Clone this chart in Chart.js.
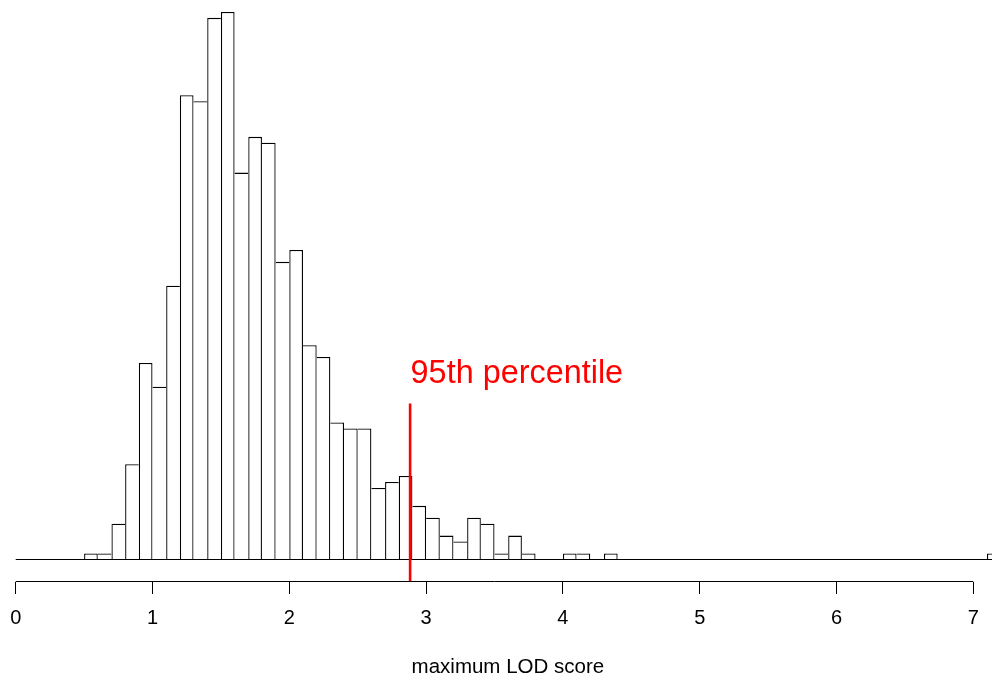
<!DOCTYPE html>
<html>
<head>
<meta charset="utf-8">
<script src="https://cdn.jsdelivr.net/npm/chart.js@4/dist/chart.umd.min.js"></script>
<style>
html, body { margin: 0; padding: 0; overflow: hidden; background: #ffffff; width: 992px; height: 677px; }
#c { display: block; }
</style>
</head>
<body>
<canvas id="c" width="1000" height="677"></canvas>
<script>
// ---- data (bins of width 0.1) ----
const binLower = [
  0.0, 0.1, 0.2, 0.3, 0.4, 0.5, 0.6, 0.7, 0.8, 0.9,
  1.0, 1.1, 1.2, 1.3, 1.4, 1.5, 1.6, 1.7, 1.8, 1.9,
  2.0, 2.1, 2.2, 2.3, 2.4, 2.5, 2.6, 2.7, 2.8, 2.9,
  3.0, 3.1, 3.2, 3.3, 3.4, 3.5, 3.6, 3.7, 3.8, 3.9,
  4.0, 4.1, 4.2, 4.3, 4.4, 4.5, 4.6, 4.7, 4.8, 4.9,
  5.0, 5.1, 5.2, 5.3, 5.4, 5.5, 5.6, 5.7, 5.8, 5.9,
  6.0, 6.1, 6.2, 6.3, 6.4, 6.5, 6.6, 6.7, 6.8, 6.9,
  7.0, 7.1
];
const counts = [
  0, 0, 0, 0, 0, 1, 1, 6, 16, 33,
  29, 46, 78, 77, 91, 92, 65, 71, 70, 50,
  52, 36, 34, 23, 22, 22, 12, 13, 14, 9,
  7, 4, 3, 7, 6, 1, 4, 1, 0, 0,
  1, 1, 0, 1, 0, 0, 0, 0, 0, 0,
  0, 0, 0, 0, 0, 0, 0, 0, 0, 0,
  0, 0, 0, 0, 0, 0, 0, 0, 0, 0,
  0, 1
];
const binWidth = 0.1;
const xTickValues = [0, 1, 2, 3, 4, 5, 6, 7];
const percentile95 = [2.883];
const percentileLineTop = 26.2;
const percentileLabel = "95th percentile";
const xAxisTitle = "maximum LOD score";

const FONT = "'Liberation Sans', Arial, Helvetica, sans-serif";
const EDGE = 1.3;

const histData = binLower.map((b, i) => ({ x: b + binWidth / 2, y: counts[i] }));

function barBorder(ctx) {
  const i = ctx.dataIndex;
  if (i === undefined) return EDGE;
  const c = counts[i];
  if (!c) return 0;
  const prev = i > 0 ? counts[i - 1] : 0;
  const next = i < counts.length - 1 ? counts[i + 1] : 0;
  return { top: EDGE, bottom: 0, left: c > prev ? EDGE : 0, right: c >= next ? EDGE : 0 };
}

const axesPlugin = {
  id: 'rAxes',
  afterDatasetDraw(chart, args) {
    if (args.meta.type !== 'bar') return;
    const ctx = chart.ctx, xs = chart.scales.x, ys = chart.scales.y;
    const y0 = Math.floor(ys.getPixelForValue(0)) + 0.5;
    ctx.save();
    ctx.strokeStyle = '#000000';
    ctx.lineWidth = 1;
    ctx.beginPath();
    ctx.moveTo(xs.getPixelForValue(binLower[0]), y0);
    ctx.lineTo(xs.getPixelForValue(binLower[binLower.length - 1] + binWidth), y0);
    ctx.stroke();
    ctx.restore();
  },
  afterDraw(chart) {
    const ctx = chart.ctx, xs = chart.scales.x, ys = chart.scales.y;
    const ya = Math.round(chart.chartArea.bottom) - 0.5;
    ctx.save();
    ctx.strokeStyle = '#000000';
    ctx.lineWidth = 1;
    ctx.beginPath();
    ctx.moveTo(xs.getPixelForValue(xTickValues[0]), ya);
    ctx.lineTo(xs.getPixelForValue(xTickValues[xTickValues.length - 1]), ya);
    ctx.stroke();
    // percentile label
    const px = xs.getPixelForValue(percentile95[0]);
    const py = ys.getPixelForValue(percentileLineTop);
    ctx.fillStyle = '#ff0000';
    ctx.font = "32.4px " + FONT;
    ctx.textAlign = 'left';
    ctx.textBaseline = 'alphabetic';
    ctx.fillText(percentileLabel, px + 0.5, py - 20);
    ctx.restore();
  }
};

new Chart(document.getElementById('c'), {
  type: 'bar',
  data: {
    datasets: [
      {
        type: 'line',
        order: 0,
        data: [{ x: percentile95[0], y: -3.8 }, { x: percentile95[0], y: percentileLineTop }],
        borderColor: '#ff0000',
        borderWidth: 2.6,
        pointRadius: 0,
        fill: false,
        tension: 0
      },
      {
        type: 'bar',
        order: 1,
        data: histData,
        backgroundColor: '#ffffff',
        borderColor: '#000000',
        borderWidth: barBorder,
        inflateAmount: 0,
        barPercentage: 1,
        categoryPercentage: 1,
        grouped: false
      }
    ]
  },
  options: {
    responsive: false,
    animation: false,
    devicePixelRatio: 1,
    layout: { padding: { left: 15.7, right: 0, top: 0, bottom: 0 } },
    plugins: { legend: { display: false }, tooltip: { enabled: false } },
    scales: {
      x: {
        type: 'linear',
        min: 0,
        max: 7.195,
        offset: false,
        border: { display: false },
        grid: { display: true, offset: false, drawOnChartArea: false, drawTicks: true, tickLength: 12, color: '#000000', lineWidth: 1 },
        ticks: {
          stepSize: 1,
          includeBounds: false,
          autoSkip: false,
          maxRotation: 0,
          padding: 12,
          color: '#000000',
          font: { family: FONT, size: 20 }
        },
        title: {
          display: true,
          text: xAxisTitle,
          color: '#000000',
          font: { family: FONT, size: 20.5, lineHeight: 0.9 },
          padding: { top: 0, bottom: 0 }
        },
        afterFit(scale) {
          scale.height = 95;
          scale.paddingLeft = 0;
          scale.paddingRight = 0;
        }
      },
      y: {
        display: false,
        min: -3.8,
        max: 94.0
      }
    }
  },
  plugins: [axesPlugin]
});
</script>
</body>
</html>
